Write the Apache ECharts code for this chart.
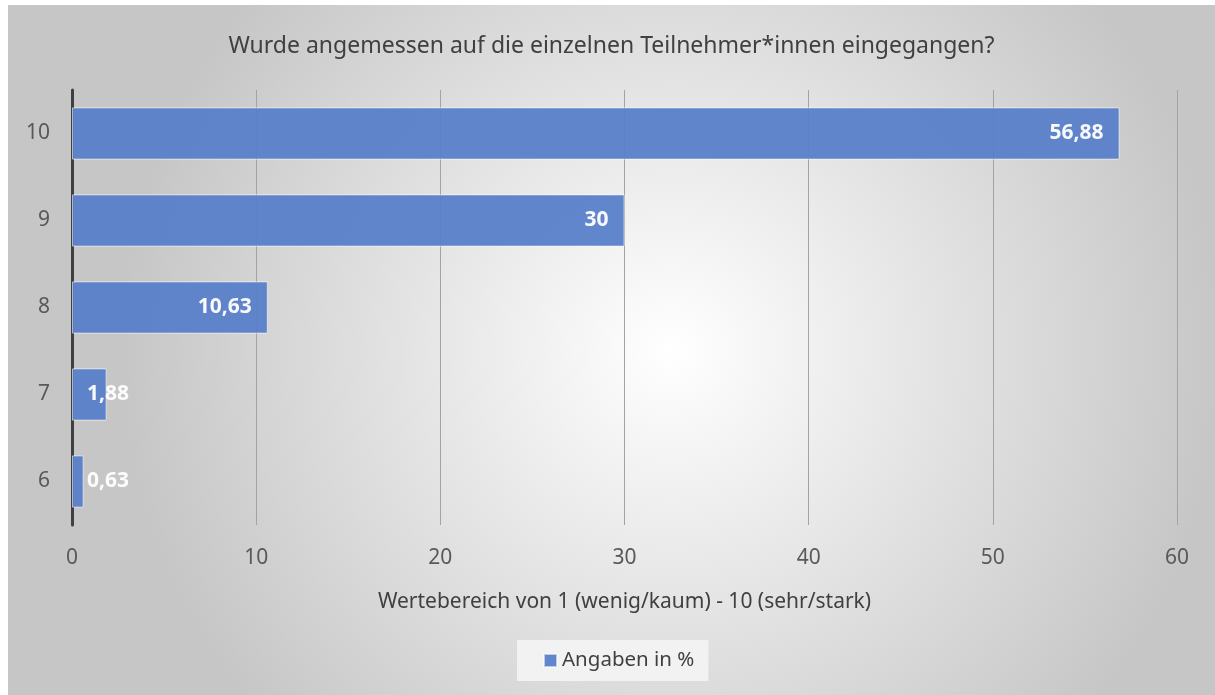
<!DOCTYPE html>
<html>
<head>
<meta charset="utf-8">
<script src="https://cdn.jsdelivr.net/npm/echarts@6/dist/echarts.min.js"></script>
<style>
  html, body { margin: 0; padding: 0; background: #ffffff; }
  #chart { position: absolute; left: 8px; top: 5px; width: 1207px; height: 690px; }
</style>
</head>
<body>
<div id="chart"></div>
<script>
var titleText = "Wurde angemessen auf die einzelnen Teilnehmer*innen eingegangen?";
var categories = ["6", "7", "8", "9", "10"];
var values = [0.63, 1.88, 10.63, 30, 56.88];
var seriesName = "Angaben in %";
var axisName = "Wertebereich von 1 (wenig/kaum) - 10 (sehr/stark)";

var font = "'Noto Sans', sans-serif";
var myChart = echarts.init(document.getElementById("chart"));

// kleine Balken: Beschriftung beginnt am Balkenanfang
var barData = values.map(function (v) {
  var item = { value: v };
  if (v < 5) {
    item.label = { position: "insideLeft", distance: 15 };
  }
  return item;
});

var option = {
  backgroundColor: {
    type: "radial",
    x: 0.55,
    y: 0.5,
    r: 0.8,
    colorStops: [
      { offset: 0, color: "#ffffff" },
      { offset: 1, color: "#c6c6c6" },
    ],
  },
  textStyle: { fontFamily: font },
  title: {
    text: titleText,
    left: "center",
    top: 25,
    textStyle: { fontFamily: font, fontSize: 23, fontWeight: "normal", color: "#404040" },
  },
  legend: {
    data: [seriesName],
    left: 509,
    top: 635,
    padding: [10, 14, 10, 26],
    backgroundColor: "#f2f2f2",
    itemWidth: 13,
    itemHeight: 13,
    icon: "rect",
    itemGap: 6,
    textStyle: { fontFamily: font, fontSize: 20.5, color: "#404040" },
  },
  grid: { left: 64, right: 38, top: 85, bottom: 170 },
  xAxis: {
    type: "value",
    min: 0,
    max: 60,
    interval: 10,
    name: axisName,
    nameLocation: "middle",
    nameGap: 67,
    nameTextStyle: { fontFamily: font, fontSize: 21, color: "#404040" },
    axisLine: { show: false },
    axisTick: { show: false },
    axisLabel: { margin: 23, fontSize: 21, color: "#595959", fontFamily: font },
    splitLine: { show: true, lineStyle: { color: "#a3a3a3", width: 1 } },
  },
  yAxis: {
    type: "category",
    data: categories,
    axisLine: { show: true, lineStyle: { color: "#404040", width: 3 } },
    axisTick: { show: false },
    axisLabel: { margin: 22, fontSize: 21, color: "#595959", fontFamily: font },
  },
  series: [
    {
      name: seriesName,
      type: "bar",
      data: barData,
      barCategoryGap: "40%",
      itemStyle: {
        color: "#5a80c9",
        opacity: 0.95,
        borderColor: "rgba(255,255,255,0.6)",
        borderWidth: 1,
      },
      label: {
        show: true,
        position: "insideRight",
        distance: 16,
        color: "#ffffff",
        fontWeight: "bold",
        fontSize: 21,
        fontFamily: font,
        formatter: function (p) {
          return String(p.value).replace(".", ",");
        },
      },
    },
  ],
};
myChart.setOption(option);
</script>
</body>
</html>
